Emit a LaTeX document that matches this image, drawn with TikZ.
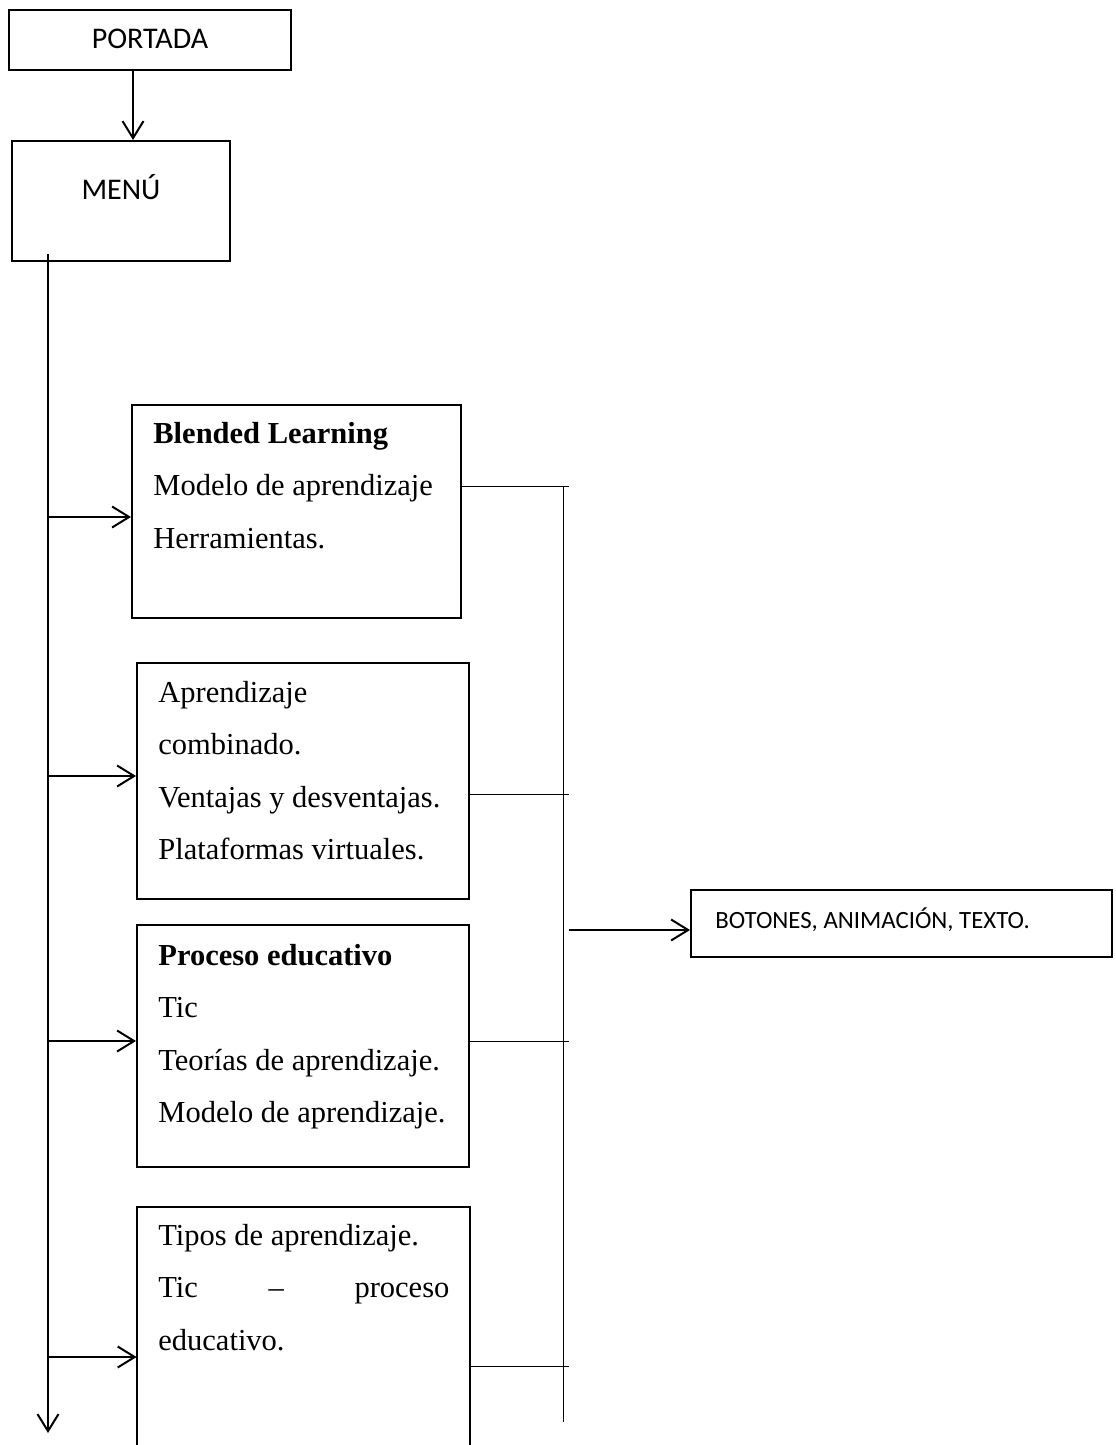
\documentclass[tikz,border=0pt]{standalone}
\usepackage{fontspec}
\setmainfont{Liberation Serif}
\newfontfamily\calibri{Carlito}
\usetikzlibrary{arrows.meta,fit,calc}
\newcommand{\thickw}{1pt}
\newcommand{\thinw}{0.5pt}
\newcommand{\lsep}{52.5}

\tikzset{
    box/.style={draw, line width=\thickw, inner sep=0pt},
    arr/.style={line width=\thickw, -{Straight Barb[length=8.5pt,width=10.5pt]}},
    link/.style={line width=\thinw},
    txt/.style={anchor=base west, inner sep=0pt, font=\fontsize{15.25}{18}\selectfont},
    lbl/.style={anchor=base, inner sep=0pt, font=\calibri\fontsize{15}{18}\selectfont},
}

\begin{document}
\begin{tikzpicture}[x=0.5pt, y=-0.5pt]
    \useasboundingbox (0,0) rectangle (1115,1445);

%%%%        Boxes
    \node[box, fit={(9,10) (291,70)}] (portada) {};
    \node[box, fit={(12,141) (230,261)}] (menu) {};
    \node[box, fit={(132,405) (461,618)}] (b1) {};
    \node[box, fit={(137,663) (469,899)}] (b2) {};
    \node[box, fit={(137,925) (469,1167)}] (b3) {};
    \node[inner sep=0pt, fit={(137,1207) (470,1460)}] (b4) {};
    \draw[line width=\thickw] (b4.south west) -- (b4.north west) -- (b4.north east) -- (b4.south east);
    \node[box, fit={(691,890) (1112,957)}] (bot) {};

%%%%        Labels
    \node[lbl] (portadaT) at (150,49) {PORTADA};
    \node[lbl] (menuT) at (121,199) {MENÚ};
    \node[lbl, anchor=base west, font=\calibri\fontsize{12.4}{15}\selectfont] (botT) at (715,928) {BOTONES, ANIMACIÓN, TEXTO.};

%b1
    \foreach\t [count=\i from 0] in {\textbf{Blended Learning},Modelo de aprendizaje,Herramientas.} {
        \node[txt] (b1t\i) at (153,443+\lsep*\i) {\t};
    }
%b2
    \foreach\t [count=\i from 0] in {Aprendizaje,combinado.,Ventajas y desventajas.,Plataformas virtuales.} {
        \node[txt] (b2t\i) at (158,702+\lsep*\i) {\t};
    }
%b3
    \foreach\t [count=\i from 0] in {\textbf{Proceso educativo},Tic,Teorías de aprendizaje.,Modelo de aprendizaje.} {
        \node[txt] (b3t\i) at (158,965+\lsep*\i) {\t};
    }
%b4
    \node[txt] (b4t0) at (158,1245) {Tipos de aprendizaje.};
    \node[txt] (b4t1) at (158,1245+\lsep) {\makebox[145.5pt][s]{Tic\hfill–\hfill proceso}};
    \node[txt] (b4t2) at (158,1245+2*\lsep) {educativo.};

%%%%        Edges
    \coordinate (p0) at (133,70);
    \draw[arr] (p0) -- (p0 |- menu.north);

    \coordinate (m0) at (48,254);
    \coordinate (m1) at (48,1433);
    \draw[arr] (m0) -- (m1);
    \foreach\n/\y in {b1/517,b2/776,b3/1041,b4/1357} {
        \coordinate (j\n) at (48,\y);
        \draw[arr] (j\n) -- (j\n -| \n.west);
    }

    \foreach\n/\y in {b1/486,b2/794,b3/1041,b4/1366} {
        \coordinate (t\n) at (569,\y);
        \draw[link] (\n.east |- t\n) -- (t\n);
    }
    \coordinate (v0) at (563,486);
    \coordinate (v1) at (563,1422);
    \draw[link] (v0) -- (v1);

    \coordinate (a0) at (569,930);
    \draw[arr] (a0) -- (a0 -| bot.west);
\end{tikzpicture}
\end{document}
